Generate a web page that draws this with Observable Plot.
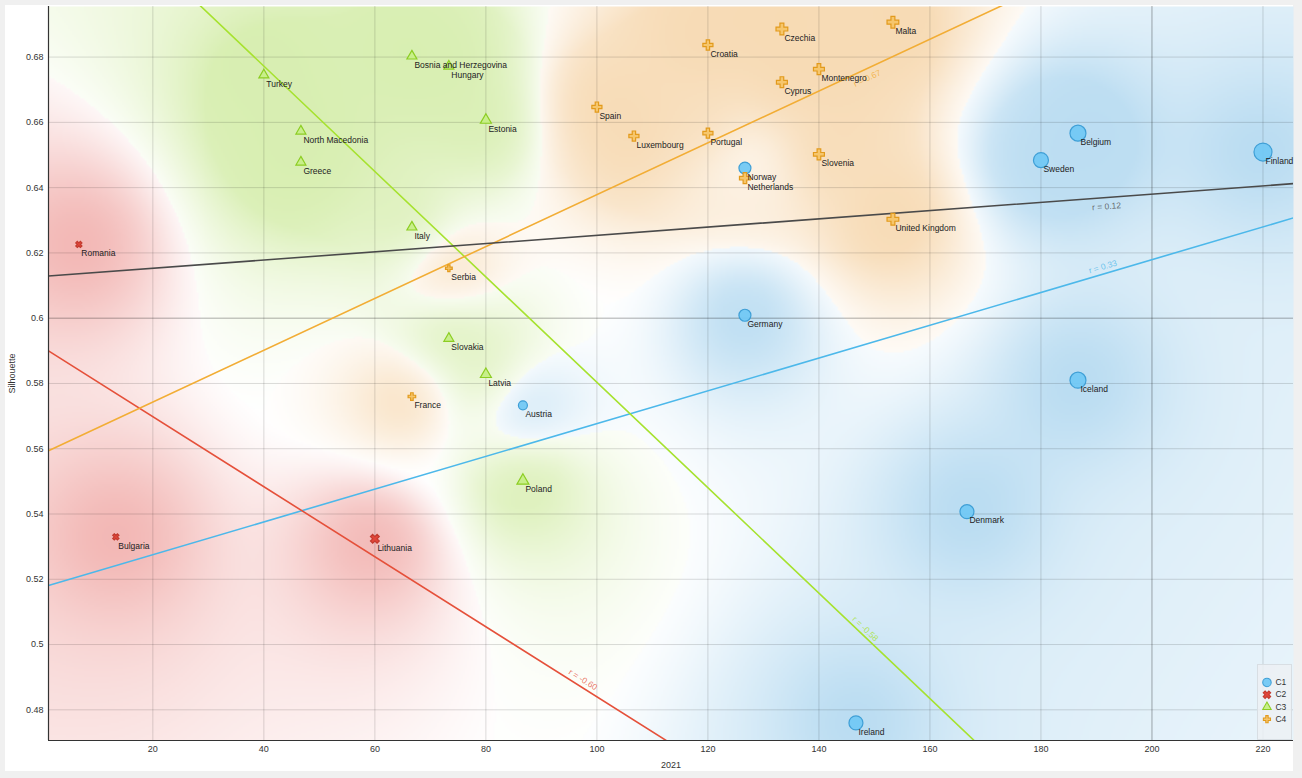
<!DOCTYPE html>
<html><head><meta charset="utf-8">
<script src="https://cdn.jsdelivr.net/npm/d3@7"></script>
<script src="https://cdn.jsdelivr.net/npm/@observablehq/plot@0.6"></script>
<style>
html,body{margin:0;padding:0;background:#f0f0f0;}
#wrap{position:relative;width:1302px;height:778px;overflow:hidden;}
#panel{position:absolute;left:5px;top:5px;width:1288px;height:766px;background:#fff;}
#chart{position:absolute;left:0;top:0;}
#legend{position:absolute;left:1257px;top:664px;width:35px;height:76px;background:rgba(236,240,243,0.85);border:1px solid #d8dee3;box-sizing:border-box;}
</style></head><body>
<div id="wrap"><div id="panel"></div><div id="chart"></div><div id="legend"></div></div>
<script>
// ---------- data ----------
const countries = ["Romania","Bulgaria","Lithuania",
  "Turkey","North Macedonia","Greece","Bosnia and Herzegovina","Hungary","Estonia","Italy","Slovakia","Latvia","Poland",
  "Serbia","France","Spain","Croatia","Luxembourg","Portugal","Czechia","Cyprus","Montenegro","Malta","Slovenia","Netherlands","United Kingdom",
  "Austria","Norway","Germany","Belgium","Sweden","Finland","Iceland","Denmark","Ireland"];
const clusters = ["C2","C2","C2",
  "C3","C3","C3","C3","C3","C3","C3","C3","C3","C3",
  "C4","C4","C4","C4","C4","C4","C4","C4","C4","C4","C4","C4","C4",
  "C1","C1","C1","C1","C1","C1","C1","C1","C1"];
const year2021 = [6.67,13.33,60,
  40,46.67,46.67,66.67,73.33,80,66.67,73.33,80,86.67,
  73.33,66.67,100,120,106.67,120,133.33,133.33,140,153.33,140,126.67,153.33,
  86.67,126.67,126.67,186.67,180,220,186.67,166.67,146.67];
const silhouette = [0.6226,0.533,0.5324,
  0.6745,0.6573,0.6478,0.6803,0.6772,0.6607,0.6279,0.5938,0.5828,0.5502,
  0.6153,0.576,0.6647,0.6837,0.6558,0.6567,0.6886,0.6723,0.6763,0.6907,0.6502,0.6429,0.6303,
  0.5733,0.646,0.6009,0.6567,0.6484,0.6509,0.581,0.5407,0.476];
const sizeValue = [3.5,3.5,5,
  5,5,5,5,5,5.5,5,5,5.5,6,
  4,4.5,6,6,6,6,7,6.5,6.5,7,6.5,6.5,7,
  4.5,6,6,8,7.5,9,8,7,7];
const clusterNames = ["C1","C2","C3","C4"];
const xTicks = [20,40,60,80,100,120,140,160,180,200,220];
const yTicks = [0.48,0.5,0.52,0.54,0.56,0.58,0.6,0.62,0.64,0.66,0.68];
const xEmphasis = [200];
const yEmphasis = [0.6];
const xDomain = [1.2, 225.5];
const yDomain = [0.4706, 0.6955];
const rLabelAt = {C1: 191.5, C2: 96.8, C3: 147.6, C4: 148, all: 191.7};

// ---------- styles ----------
const W = 1302, H = 778, mL = 48, mR = 9, mT = 6, mB = 38;
const lineColors = {C1:"#4cb8ea", C2:"#e5503a", C3:"#a6e22e", C4:"#f2ad35", all:"#4a4a4a"};
const regionColors = {C1:"#58abde", C2:"#e0504a", C3:"#9fd640", C4:"#eba445"};
const rLabelOffset = {C1:-7, C2:-7, C3:-6, C4:9, all:9};
const markerStyle = {
  C1:{fill:"#72c8f4", stroke:"#3f9fd6", fillOpacity:0.95},
  C2:{fill:"#e2463a", stroke:"#c23a2e", fillOpacity:1},
  C3:{fill:"#c8ef8a", stroke:"#8ccd22", fillOpacity:1},
  C4:{fill:"#f6c66c", stroke:"#e29a1c", fillOpacity:1}
};
const scaled = (sym, k) => ({draw(ctx, size){ sym.draw(ctx, size * k); }});
const symXbase = {draw(ctx, size){
  const r = Math.sqrt(size / 5) / 2, c = Math.SQRT1_2;
  const P = [[-3*r,-r],[-r,-r],[-r,-3*r],[r,-3*r],[r,-r],[3*r,-r],[3*r,r],[r,r],[r,3*r],[-r,3*r],[-r,r],[-3*r,r]];
  P.forEach(([x,y],i)=>{const X=(x-y)*c, Y=(x+y)*c; i?ctx.lineTo(X,Y):ctx.moveTo(X,Y);});
  ctx.closePath();
}};
const symbols = {C1:d3.symbolCircle, C2:scaled(symXbase,0.62), C3:scaled(d3.symbolTriangle,0.55), C4:scaled(d3.symbolCross,0.5)};

// ---------- derived ----------
const points = countries.map((name,i)=>({name, cluster:clusters[i], x:year2021[i], y:silhouette[i], size:sizeValue[i]}));
function regression(pts){
  const mx=d3.mean(pts,d=>d.x), my=d3.mean(pts,d=>d.y);
  let sxy=0,sxx=0,syy=0;
  for(const p of pts){sxy+=(p.x-mx)*(p.y-my);sxx+=(p.x-mx)**2;syy+=(p.y-my)**2;}
  const b=sxy/sxx; return {b, a:my-b*mx, r:sxy/Math.sqrt(sxx*syy)};
}
const groups = [...clusterNames, "all"];
const kx = (W-mL-mR)/(xDomain[1]-xDomain[0]), ky = (H-mT-mB)/(yDomain[1]-yDomain[0]);
const regs = groups.map(g=>{
  const pts = g==="all"?points:points.filter(p=>p.cluster===g);
  return {g, ...regression(pts)};
});
const regLines = regs.flatMap(R=>xDomain.map(x=>({g:R.g, x, y:R.a+R.b*x})));

// ---------- color regions ----------
const pp = points.map(p=>({px:p.x*kx, py:p.y*ky, c:clusterNames.indexOf(p.cluster)}));
const regRgb = clusterNames.map(c=>d3.rgb(regionColors[c]));
const S = 55, SIG = 60, AX = 1.0;
function regionFill(x,y){
  const X=x*kx, Y=y*ky;
  const w=[0,0,0,0], dens=[0,0,0,0];
  for(const p of pp){
    const dx=(X-p.px)*AX, dy=Y-p.py, d2=dx*dx+dy*dy;
    w[p.c]+=1/Math.pow(1+d2/(S*S),2);
    dens[p.c]+=Math.exp(-d2/(2*SIG*SIG));
  }
  const tot=w[0]+w[1]+w[2]+w[3];
  let k=0; for(let i=1;i<4;i++) if(w[i]>w[k]) k=i;
  const pr=w[k]/tot;
  let a=Math.max(0,(pr-0.3)/0.7); a=Math.pow(a,1.2);
  const boost=Math.min(1,dens[k]);
  const alpha=0.41*a*(0.55+0.45*boost);
  const c=regRgb[k];
  return `rgb(${Math.round(255+(c.r-255)*alpha)},${Math.round(255+(c.g-255)*alpha)},${Math.round(255+(c.b-255)*alpha)})`;
}

// ---------- marks ----------
const fmt = d=>String(+d.toFixed(2));
const marks = [
  Plot.raster({x1:xDomain[0], x2:xDomain[1], y1:yDomain[0], y2:yDomain[1], fill:regionFill, pixelSize:2}),
  Plot.gridX(xTicks, {stroke:"#000", strokeOpacity:0.14}),
  Plot.gridY(yTicks, {stroke:"#000", strokeOpacity:0.14}),
  Plot.gridX(xEmphasis, {stroke:"#000", strokeOpacity:0.2}),
  Plot.gridY(yEmphasis, {stroke:"#000", strokeOpacity:0.2}),
  Plot.axisX(xTicks, {tickSize:0, tickPadding:5, tickFormat:fmt, fontSize:9, fill:"#333", label:"2021", labelAnchor:"center", labelOffset:27, labelArrow:"none"}),
  Plot.axisY(yTicks, {tickSize:0, tickPadding:5, tickFormat:fmt, fontSize:9, fill:"#333", label:"Silhouette", labelAnchor:"center", labelOffset:40, labelArrow:"none"}),
  Plot.line(regLines, {x:"x", y:"y", z:"g", stroke:d=>lineColors[d.g], strokeWidth:1.6, clip:true}),
];
for(const R of regs){
  const x0=rLabelAt[R.g], y0=R.a+R.b*x0;
  const theta=Math.atan2(-R.b*ky, kx);
  const off=rLabelOffset[R.g];
  marks.push(Plot.text([{x:x0,y:y0}], {x:"x", y:"y", text:()=>`r = ${R.r.toFixed(2)}`, rotate:theta*180/Math.PI,
    dx:-off*Math.sin(theta), dy:off*Math.cos(theta), fill:lineColors[R.g], fillOpacity:0.8, fontSize:8.5}));
}
marks.push(Plot.ruleX([xDomain[0]], {stroke:"#333", strokeWidth:1.2}));
marks.push(Plot.ruleY([yDomain[0]], {stroke:"#333", strokeWidth:1.2}));
for(const c of clusterNames){
  marks.push(Plot.dot(points.filter(p=>p.cluster===c), {x:"x", y:"y", r:"size", symbol:symbols[c], ...markerStyle[c], strokeWidth:1.2}));
}
marks.push(Plot.text(points, {x:"x", y:"y", text:"name", textAnchor:"start", dx:2.5, dy:9, fontSize:8.5, fill:"#222"}));

const chart = Plot.plot({
  width:W, height:H, marginLeft:mL, marginRight:mR, marginTop:mT, marginBottom:mB,
  x:{domain:xDomain}, y:{domain:yDomain},
  r:{type:"linear", domain:[0,10], range:[0,10]},
  style:{fontFamily:"'Liberation Sans', Arial, sans-serif", fontSize:"9px", background:"transparent", color:"#333"},
  marks
});
document.getElementById("chart").appendChild(chart);

const legend = Plot.plot({
  width:35, height:74, margin:0,
  y:{type:"point", domain:clusterNames, range:[11,63], axis:null},
  r:{type:"linear", domain:[0,10], range:[0,10]},
  style:{fontFamily:"'Liberation Sans', Arial, sans-serif", fontSize:"9px", background:"transparent", color:"#333"},
  marks:[
    ...clusterNames.map(c=>Plot.dot([c], {y:d=>d, frameAnchor:"left", dx:9, r:()=>4.5, symbol:symbols[c], ...markerStyle[c], strokeWidth:1.1})),
    Plot.text(clusterNames, {y:d=>d, text:d=>d, frameAnchor:"left", dx:18, textAnchor:"start", fill:"#333", fontSize:9})
  ]
});
document.getElementById("legend").appendChild(legend);
</script>
</body></html>
